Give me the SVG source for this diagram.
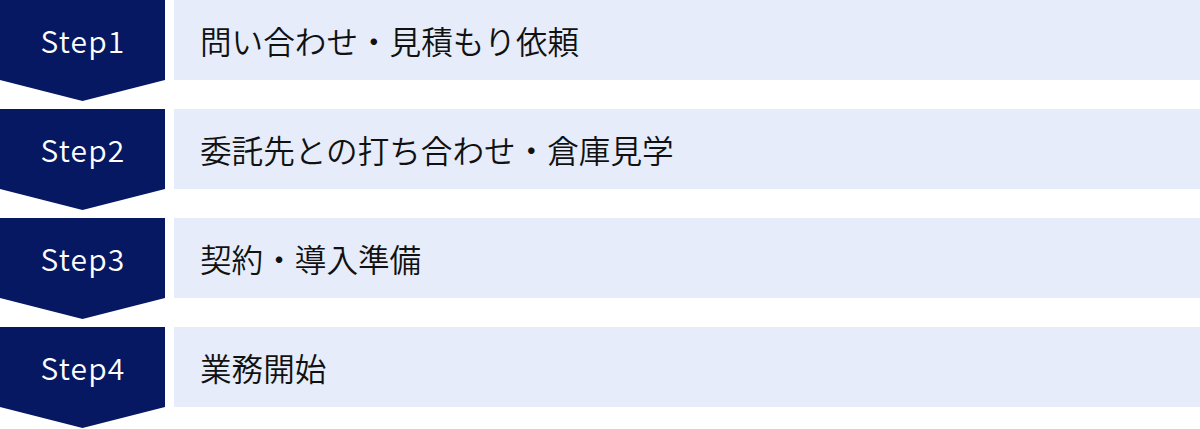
<svg xmlns="http://www.w3.org/2000/svg" width="1200" height="429" viewBox="0 0 1200 429">
<style>
.chev{fill:#061862}
.box{fill:#E6ECF9}
.st{font-family:"Noto Sans CJK JP","Noto Sans",sans-serif;font-size:30px;font-weight:350;fill:#FFFFFF;text-anchor:middle;letter-spacing:1.2px}
.lb{font-family:"Noto Sans CJK JP",sans-serif;font-size:31.6px;font-weight:350;fill:#111111}
</style>
<rect width="1200" height="429" fill="#FFFFFF"/>
<g id="step1">
<polygon class="chev" points="0,0 165,0 165,80 82.5,101 0,80"/>
<rect class="box" x="174" y="0" width="1026" height="80"/>
<text class="st" x="83" y="53">Step1</text>
<text class="lb" x="200" y="54">問い合わせ・見積もり依頼</text>
</g>
<g id="step2">
<polygon class="chev" points="0,109 165,109 165,189 82.5,210 0,189"/>
<rect class="box" x="174" y="109" width="1026" height="80"/>
<text class="st" x="83" y="162">Step2</text>
<text class="lb" x="200" y="163">委託先との打ち合わせ・倉庫見学</text>
</g>
<g id="step3">
<polygon class="chev" points="0,218 165,218 165,298 82.5,319 0,298"/>
<rect class="box" x="174" y="218" width="1026" height="80"/>
<text class="st" x="83" y="271">Step3</text>
<text class="lb" x="200" y="272">契約・導入準備</text>
</g>
<g id="step4">
<polygon class="chev" points="0,327 165,327 165,407 82.5,428 0,407"/>
<rect class="box" x="174" y="327" width="1026" height="80"/>
<text class="st" x="83" y="380">Step4</text>
<text class="lb" x="200" y="381">業務開始</text>
</g>
<g id="connectors"></g>
</svg>
